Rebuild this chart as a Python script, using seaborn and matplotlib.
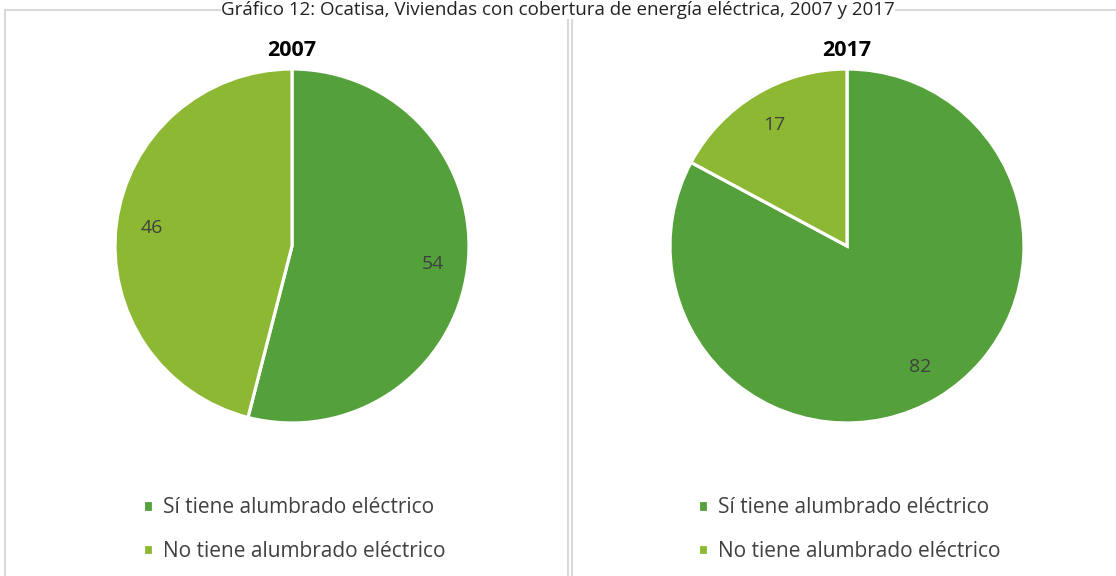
import matplotlib.pyplot as plt
import seaborn as sns
from matplotlib.patches import Rectangle

sns.set_style("white")
plt.rcParams['font.family'] = ['Open Sans', 'DejaVu Sans']

# data
years = ['2007', '2017']
categorias = ['Sí tiene alumbrado eléctrico', 'No tiene alumbrado eléctrico']
valores_2007 = [54, 46]
valores_2017 = [82, 17]
colores = ['#54A03B', '#8DB833']
titulo = 'Gráfico 12: Ocatisa, Viviendas con cobertura de energía eléctrica, 2007 y 2017'

W, H = 1116, 576
fig = plt.figure(figsize=(W / 100, H / 100), dpi=100)

# panel borders
for x0, x1 in [(5, 568), (572, 1120)]:
    fig.patches.append(Rectangle((x0 / W, -0.05), (x1 - x0) / W, 1.05 - 10 / H,
                                 transform=fig.transFigure, fill=False,
                                 edgecolor='#D9D9D9', linewidth=1.5))

fig.text(0.5, 1 - 1 / H, titulo, ha='center', va='top', fontsize=13.5, color='#222222',
         zorder=5, bbox=dict(facecolor='white', edgecolor='none', pad=0))

r = 177
for cx, year, vals in [(292, years[0], valores_2007), (847, years[1], valores_2017)]:
    ax = fig.add_axes([(cx - r) / W, (H - 246 - r) / H, 2 * r / W, 2 * r / H])
    total = sum(vals)
    wedges, _, autot = ax.pie(vals, colors=colores, startangle=90, counterclock=False,
                              radius=1, pctdistance=0.8,
                              autopct=lambda p, t=total: f'{p * t / 100:.0f}',
                              wedgeprops=dict(edgecolor='white', linewidth=2.3),
                              textprops=dict(fontsize=14, color='#404040'))
    ax.set_xlim(-1.0, 1.0)
    ax.set_ylim(-1.0, 1.0)
    ax.axis('off')
    fig.text(cx / W, 1 - 50 / H, year, ha='center', va='center', fontsize=15.5,
             fontweight='bold', color='black')
    fig.legend(wedges, categorias, loc='upper left',
               bbox_to_anchor=((cx - 149) / W, 1 - 497 / H),
               frameon=False, fontsize=15, handlelength=0.5, handleheight=0.5,
               handletextpad=0.45, labelspacing=1.1, labelcolor='#404040',
               borderaxespad=0, borderpad=0)

fig.savefig('out.png', dpi=100)
